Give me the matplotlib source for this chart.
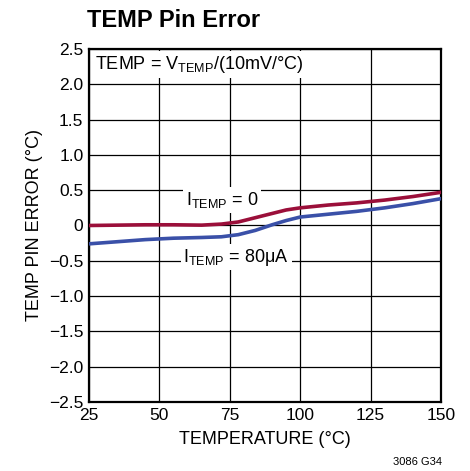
import matplotlib
matplotlib.use('Agg')
import matplotlib.pyplot as plt

plt.rcParams['font.family'] = ['Liberation Sans', 'DejaVu Sans']
plt.rcParams['mathtext.default'] = 'regular'

# data
temp = [25, 35, 45, 55, 65, 72, 78, 84, 90, 95, 100, 110, 120, 130, 140, 150]
err_0 = [0.0, 0.005, 0.01, 0.01, 0.005, 0.02, 0.05, 0.11, 0.17, 0.22, 0.25, 0.29, 0.32, 0.36, 0.41, 0.47]
err_80 = [-0.26, -0.23, -0.2, -0.18, -0.17, -0.16, -0.13, -0.07, 0.01, 0.07, 0.12, 0.16, 0.2, 0.25, 0.31, 0.38]

xticks = [25, 50, 75, 100, 125, 150]
yticks = [-2.5, -2.0, -1.5, -1.0, -0.5, 0, 0.5, 1.0, 1.5, 2.0, 2.5]
ytick_labels = ['\u22122.5', '\u22122.0', '\u22121.5', '\u22121.0', '\u22120.5', '0',
                '0.5', '1.0', '1.5', '2.0', '2.5']

fig = plt.figure(figsize=(4.7, 4.71), dpi=100)
ax = fig.add_axes([0.1894, 0.1465, 0.749, 0.7495])

ax.plot(temp, err_0, color='#9b0f3a', lw=2.6, zorder=3)
ax.plot(temp, err_80, color='#3a50a8', lw=2.6, zorder=3)

ax.set_xlim(25, 150)
ax.set_ylim(-2.5, 2.5)
ax.set_xticks(xticks)
ax.set_yticks(yticks)
ax.set_yticklabels(ytick_labels)
ax.tick_params(length=0, labelsize=12.5, pad=4)
ax.grid(True, color='black', lw=0.9)
for s in ax.spines.values():
    s.set_linewidth(1.6)

ax.set_xlabel('TEMPERATURE (\u00b0C)', fontsize=13, labelpad=6)
ax.set_ylabel('TEMP PIN ERROR (\u00b0C)', fontsize=13, labelpad=4)

box = dict(facecolor='white', edgecolor='none', pad=2)
ax.text(27.3, 2.28, 'TEMP = V$_{TEMP}$/(10mV/\u00b0C)', fontsize=13,
        va='center', ha='left', bbox=box, zorder=4)
ax.text(59.5, 0.36, 'I$_{TEMP}$ = 0', fontsize=13, va='center', ha='left',
        bbox=box, zorder=4)
ax.text(58.5, -0.45, 'I$_{TEMP}$ = 80\u03bcA', fontsize=13, va='center', ha='left',
        bbox=box, zorder=4)

fig.text(0.186, 0.957, 'TEMP Pin Error', fontsize=17, fontweight='bold',
         ha='left', va='center')
fig.text(0.94, 0.02, '3086 G34', fontsize=8, ha='right', va='center')

fig.savefig('out.png', dpi=100)
